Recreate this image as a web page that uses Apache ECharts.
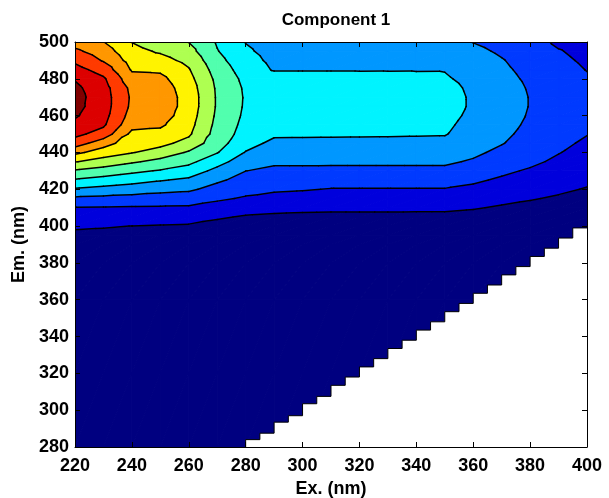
<!DOCTYPE html>
<html>
<head>
<meta charset="utf-8">
<script src="https://cdn.jsdelivr.net/npm/echarts@6/dist/echarts.min.js"></script>
<style>
html,body{margin:0;padding:0;background:#fff;}
#chart{width:609px;height:498px;}
</style>
</head>
<body>
<div id="chart"></div>
<script>
// ---- data ----
const exAxis = [220,230,240,250,260,270,280,290,300,310,320,330,340,350,360,370,380,390,400];
const emAxis = [280,320,360,380,390,395,400,405,410,415,420,425,430,435,440,445,450,455,460,465,470,475,480,485,490,495,500];
// one emission profile (ordered as emAxis) per excitation wavelength (ordered as exAxis)
const intensityByEx = [
  /*220*/[0.02,0.05,0.12,0.25,0.47,0.76,1.16,1.56,1.96,2.82,3.89,4.9,5.9,7.05,8.25,9.5,10.28,10.75,11.12,11.3,11.35,11.22,10.93,10.38,9.8,9.2,8.6],
  /*230*/[0.02,0.05,0.1,0.2,0.42,0.72,1.09,1.51,1.94,2.74,3.7,4.64,5.57,6.57,7.5,8.44,9.56,10.15,10.35,10.45,10.45,10.38,10.15,9.57,8.91,8.48,8.02],
  /*240*/[0.02,0.05,0.1,0.2,0.45,0.72,0.99,1.45,1.91,2.65,3.5,4.37,5.23,6.14,7.05,7.41,7.76,8.3,8.6,8.8,8.85,8.75,8.35,7.9,7.6,7.3,6.98],
  /*250*/[0.02,0.05,0.1,0.2,0.42,0.68,0.95,1.42,1.89,2.56,3.31,4.08,4.92,5.69,6.6,7.27,7.71,8.15,8.45,8.6,8.6,8.5,8.25,7.83,7.34,6.88,6.5],
  /*260*/[0.02,0.04,0.1,0.18,0.4,0.65,0.9,1.37,1.86,2.49,3.17,3.81,4.54,5.25,5.88,6.67,7.15,7.35,7.5,7.6,7.6,7.5,7.3,7.07,6.73,6.35,5.98],
  /*270*/[0.02,0.04,0.09,0.16,0.35,0.55,0.75,1.1,1.63,2.15,2.65,3.17,3.72,4.36,5.05,5.4,5.6,5.72,5.82,5.89,5.89,5.85,5.75,5.55,5.3,5.05,4.9],
  /*280*/[0.02,0.04,0.08,0.14,0.3,0.48,0.68,0.92,1.4,1.9,2.29,2.64,3.01,3.48,3.95,4.35,4.6,4.72,4.82,4.88,4.9,4.86,4.75,4.55,4.35,4.15,3.97],
  /*290*/[0.02,0.04,0.08,0.13,0.28,0.45,0.63,0.85,1.26,1.72,2.14,2.48,2.82,3.15,3.46,3.78,4.15,4.45,4.7,4.82,4.85,4.75,4.45,3.92,3.78,3.66,3.55],
  /*300*/[0.02,0.04,0.08,0.13,0.26,0.43,0.6,0.82,1.2,1.65,2.07,2.44,2.81,3.15,3.46,3.78,4.13,4.42,4.65,4.77,4.8,4.7,4.42,3.92,3.76,3.63,3.5],
  /*310*/[0.02,0.04,0.08,0.13,0.25,0.42,0.59,0.8,1.18,1.57,1.96,2.37,2.79,3.15,3.46,3.78,4.12,4.4,4.62,4.72,4.75,4.65,4.38,3.93,3.74,3.6,3.45],
  /*320*/[0.02,0.04,0.07,0.12,0.24,0.4,0.58,0.79,1.18,1.57,1.96,2.37,2.79,3.15,3.46,3.78,4.1,4.36,4.56,4.66,4.68,4.58,4.32,3.93,3.72,3.56,3.4],
  /*330*/[0.02,0.04,0.07,0.12,0.23,0.39,0.57,0.79,1.18,1.57,1.96,2.37,2.79,3.15,3.46,3.78,4.09,4.3,4.5,4.58,4.6,4.5,4.26,3.94,3.7,3.52,3.35],
  /*340*/[0.02,0.03,0.07,0.12,0.22,0.38,0.56,0.78,1.18,1.57,1.96,2.37,2.79,3.15,3.46,3.78,4.07,4.22,4.38,4.46,4.48,4.4,4.18,3.95,3.68,3.48,3.3],
  /*350*/[0.02,0.03,0.07,0.11,0.22,0.38,0.55,0.78,1.18,1.57,1.96,2.37,2.79,3.15,3.46,3.78,4.05,4.15,4.25,4.3,4.3,4.25,4.1,3.96,3.66,3.45,3.25],
  /*360*/[0.02,0.03,0.06,0.1,0.2,0.34,0.5,0.72,1.07,1.43,1.79,2.15,2.52,2.89,3.2,3.42,3.6,3.73,3.83,3.9,3.9,3.85,3.75,3.6,3.4,3.2,2.98],
  /*370*/[0.02,0.03,0.05,0.09,0.17,0.3,0.45,0.65,0.9,1.23,1.55,1.87,2.18,2.47,2.76,3.05,3.2,3.3,3.36,3.4,3.4,3.35,3.25,3.15,3.05,2.88,2.7],
  /*380*/[0.02,0.03,0.05,0.08,0.15,0.26,0.4,0.58,0.8,1.06,1.33,1.61,1.89,2.2,2.4,2.58,2.73,2.85,2.93,2.97,2.97,2.93,2.86,2.77,2.66,2.53,2.4],
  /*390*/[0.01,0.02,0.04,0.07,0.13,0.22,0.34,0.5,0.7,0.9,1.14,1.36,1.59,1.82,2.04,2.2,2.35,2.47,2.55,2.6,2.6,2.55,2.46,2.34,2.2,2.06,1.83],
  /*400*/[0.01,0.02,0.04,0.06,0.1,0.18,0.28,0.42,0.58,0.75,0.95,1.14,1.32,1.5,1.68,1.86,2.03,2.15,2.25,2.3,2.28,2.2,2.1,1.97,1.85,1.72,1.6]
];
const contourLevels = [1,2,3,4,5,6,7,8,9,10,11];
// removed scatter region: for each 5-nm excitation step, emission below this value has no data
const scatterStartEx = [280,285,290,295,300,305,310,315,320,325,330,335,340,345,350,355,360,365,370,375,380,385,390,395];
const scatterCutEm   = [284,287.5,293.5,297,303.5,307.5,313.5,318,323.5,328,333.5,338,343.5,348,353.5,358,363.5,368,373.5,378,383.5,388,393.5,399];
const titleText = 'Component 1';
const xName = 'Ex. (nm)';
const yName = 'Em. (nm)';

// ---- styling helpers ----
function jet(t){
  const c = x => Math.max(0, Math.min(1, x));
  const r = c(1.5 - Math.abs(4*t - 3)), g = c(1.5 - Math.abs(4*t - 2)), b = c(1.5 - Math.abs(4*t - 1));
  return 'rgb(' + Math.round(r*255) + ',' + Math.round(g*255) + ',' + Math.round(b*255) + ')';
}
const nBands = contourLevels.length + 1;
const bandColors = [];
for (let k = 0; k < nBands; k++) bandColors.push(jet(k / (nBands - 1)));

function bandOf(v){ let k = 0; for (const L of contourLevels) if (v >= L) k++; return k; }

function clipPoly(poly, L, keepAbove){
  const out = [];
  for (let n = 0; n < poly.length; n++){
    const a = poly[n], b = poly[(n + 1) % poly.length];
    const ain = keepAbove ? a.v >= L : a.v < L;
    const bin = keepAbove ? b.v >= L : b.v < L;
    if (ain) out.push(a);
    if (ain !== bin){
      const t = (L - a.v) / (b.v - a.v);
      out.push({x: a.x + (b.x - a.x) * t, y: a.y + (b.y - a.y) * t, v: L});
    }
  }
  return out;
}

function cellTris(api){
  const i = api.value(2), j = api.value(3);
  const idx = [[i, j], [i + 1, j], [i + 1, j + 1], [i, j + 1]];
  const c = idx.map(([a, b]) => {
    const p = api.coord([exAxis[a], emAxis[b]]);
    return {x: p[0], y: p[1], v: intensityByEx[a][b]};
  });
  return [[c[0], c[1], c[2]], [c[0], c[2], c[3]]];
}

function renderFill(params, api){
  const children = [];
  for (const tri of cellTris(api)){
    const vs = tri.map(p => p.v);
    const k0 = bandOf(Math.min(...vs)), k1 = bandOf(Math.max(...vs));
    for (let k = k0; k <= k1; k++){
      let poly = tri;
      if (k > 0) poly = clipPoly(poly, contourLevels[k - 1], true);
      if (k < contourLevels.length && poly.length >= 3) poly = clipPoly(poly, contourLevels[k], false);
      if (poly.length >= 3){
        children.push({type: 'polygon', shape: {points: poly.map(p => [p.x, p.y])},
          style: {fill: bandColors[k], stroke: bandColors[k], lineWidth: 1}});
      }
    }
  }
  return {type: 'group', children};
}

function renderLines(params, api){
  const children = [];
  for (const tri of cellTris(api)){
    for (const L of contourLevels){
      const pts = [];
      for (let n = 0; n < 3; n++){
        const a = tri[n], b = tri[(n + 1) % 3];
        if ((a.v >= L) !== (b.v >= L)){
          const t = (L - a.v) / (b.v - a.v);
          pts.push([a.x + (b.x - a.x) * t, a.y + (b.y - a.y) * t]);
        }
      }
      if (pts.length === 2){
        children.push({type: 'line', shape: {x1: pts[0][0], y1: pts[0][1], x2: pts[1][0], y2: pts[1][1]},
          style: {stroke: '#000', lineWidth: 1.5, lineCap: 'round'}});
      }
    }
  }
  return {type: 'group', children};
}

function stepEnd(k){ return k + 1 < scatterStartEx.length ? scatterStartEx[k + 1] : exAxis[exAxis.length - 1]; }

function staircase(api){
  const pts = [api.coord([scatterStartEx[0], emAxis[0]])];
  scatterStartEx.forEach((e, k) => {
    pts.push(api.coord([e, scatterCutEm[k]]));
    pts.push(api.coord([stepEnd(k), scatterCutEm[k]]));
  });
  return pts;
}

function renderMask(params, api){
  const edge = staircase(api);
  const fillPts = edge.concat([api.coord([exAxis[exAxis.length - 1], emAxis[0]])]);
  return {type: 'group', children: [
    {type: 'polygon', shape: {points: fillPts}, style: {fill: '#fff', stroke: null}},
    {type: 'polyline', shape: {points: edge}, style: {stroke: '#000', fill: null, lineWidth: 1}}
  ]};
}

const cells = [];
for (let i = 0; i < exAxis.length - 1; i++)
  for (let j = 0; j < emAxis.length - 1; j++)
    cells.push([exAxis[i], emAxis[j], i, j]);

const FONT = '"Liberation Sans", Arial, Helvetica, sans-serif';
const labelStyle = {color: '#000', fontSize: 18, fontWeight: 'bold', fontFamily: FONT};

function axisBase(extra){
  return Object.assign({
    type: 'value', z: 10,
    axisLine: {show: true, onZero: false, lineStyle: {color: '#000', width: 1}},
    axisTick: {show: true, inside: true, length: 5, lineStyle: {color: '#000', width: 1}},
    splitLine: {show: false}
  }, extra);
}

const chart = echarts.init(document.getElementById('chart'), null, {renderer: 'canvas'});
chart.setOption({
  animation: false,
  backgroundColor: '#fff',
  title: {text: titleText, left: 331, top: 7, textAlign: 'center',
    textStyle: {color: '#000', fontSize: 17, fontWeight: 'bold', fontFamily: FONT}},
  grid: {left: 75, right: 22, top: 42, bottom: 51, containLabel: false, outerBoundsMode: 'none'},
  xAxis: [
    axisBase({min: 220, max: 400, interval: 20, position: 'bottom',
      axisLabel: Object.assign({margin: 10}, labelStyle),
      name: xName, nameLocation: 'middle', nameGap: 32, nameTextStyle: labelStyle}),
    axisBase({min: 220, max: 400, interval: 20, position: 'top', axisLabel: {show: false}})
  ],
  yAxis: [
    axisBase({min: 280, max: 500, interval: 20, position: 'left',
      axisLabel: Object.assign({margin: 6}, labelStyle),
      name: yName, nameLocation: 'middle', nameGap: 44, nameTextStyle: labelStyle}),
    axisBase({min: 280, max: 500, interval: 20, position: 'right', axisLabel: {show: false}})
  ],
  series: [
    {type: 'custom', name: 'bands', coordinateSystem: 'cartesian2d', xAxisIndex: 0, yAxisIndex: 0,
      z: 2, silent: true, clip: true, encode: {x: 0, y: 1}, data: cells, renderItem: renderFill},
    {type: 'custom', name: 'contours', coordinateSystem: 'cartesian2d', xAxisIndex: 0, yAxisIndex: 0,
      z: 3, silent: true, clip: true, encode: {x: 0, y: 1}, data: cells, renderItem: renderLines},
    {type: 'custom', name: 'scatter removed', coordinateSystem: 'cartesian2d', xAxisIndex: 0, yAxisIndex: 0,
      z: 4, silent: true, clip: true, encode: {x: 0, y: 1}, data: [[scatterStartEx[0], emAxis[0]]], renderItem: renderMask}
  ]
});
</script>
</body>
</html>
